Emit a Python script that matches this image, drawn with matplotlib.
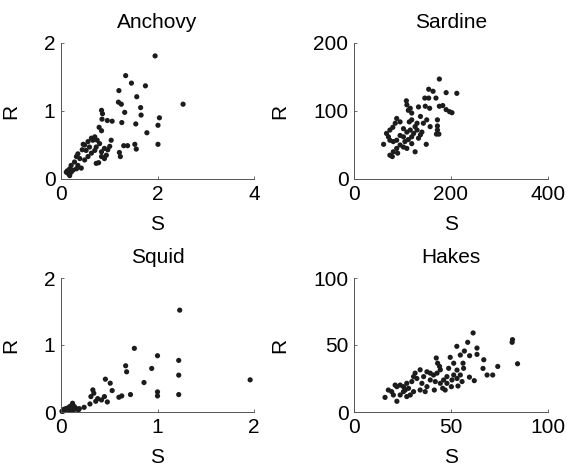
import numpy as np
import matplotlib
matplotlib.use("Agg")
import matplotlib.pyplot as plt

plt.rcParams['font.family'] = ['Liberation Sans', 'DejaVu Sans']

# Anchovy
anchovy_s = [1.95, 2.53, 1.34, 1.46, 1.75, 1.20, 1.57, 1.19, 1.25, 1.65, 1.32, 1.66, 2.04,
             0.84, 0.86, 0.96, 1.06, 0.85, 1.26, 1.55, 2.01, 0.79, 0.84, 1.78, 2.01, 1.30,
             1.38, 1.53, 1.56, 1.21, 1.23, 1.04, 1.01, 0.97, 0.94, 0.90, 0.84, 0.78, 0.73,
             0.70, 0.63, 0.56, 0.49, 0.44, 0.46, 0.66, 0.75, 0.80, 0.73, 0.63, 0.56, 0.49,
             0.39, 0.32, 0.28, 0.35, 0.42, 0.21, 0.18, 0.13, 0.15, 0.11, 0.18, 0.21, 0.25,
             0.32, 0.59, 0.70, 0.84, 0.90, 0.52, 0.35]
anchovy_r = [1.81, 1.10, 1.52, 1.41, 1.37, 1.30, 1.21, 1.13, 1.10, 1.05, 0.98, 0.94, 0.90,
             1.01, 0.96, 0.86, 0.85, 0.88, 0.83, 0.81, 0.79, 0.76, 0.71, 0.68, 0.51, 0.49,
             0.49, 0.51, 0.44, 0.39, 0.33, 0.57, 0.48, 0.43, 0.35, 0.30, 0.33, 0.24, 0.23,
             0.62, 0.60, 0.55, 0.50, 0.43, 0.51, 0.57, 0.57, 0.52, 0.47, 0.38, 0.33, 0.28,
             0.30, 0.33, 0.25, 0.20, 0.16, 0.20, 0.15, 0.12, 0.08, 0.10, 0.05, 0.10, 0.13,
             0.15, 0.47, 0.42, 0.40, 0.45, 0.42, 0.37]

# Sardine
sardine_s = [176, 212, 190, 154, 163, 146, 154, 169, 183, 190, 202, 197, 176, 156, 147, 133,
             108, 109, 116, 112, 119, 137, 150, 172, 172, 172, 170, 175, 157, 143, 88, 85,
             80, 74, 67, 61, 95, 102, 109, 116, 123, 130, 137, 140, 133, 119, 112, 102, 95,
             88, 81, 95, 102, 109, 88, 81, 74, 79, 90, 126, 149, 105, 119, 74, 130, 114,
             71, 126, 119]
sardine_r = [147, 126, 127, 132, 129, 119, 119, 119, 108, 102, 97.5, 99, 107, 104, 107, 106,
             115, 109, 104, 101, 97, 92, 87, 87, 78, 72, 66, 66, 77, 82, 89, 82,
             76, 72, 67, 51, 84, 74, 69, 72, 67, 72, 65, 69, 60, 62, 58, 62, 64,
             57, 55, 50, 47, 45, 45, 40, 35, 33, 38, 40, 51, 55, 52, 57, 82, 84,
             62, 77, 87]

# Squid
squid_s = [1.23, 0.76, 1.00, 1.22, 0.67, 0.68, 0.94, 1.22, 1.96, 0.86, 0.46, 0.51, 0.53,
           0.33, 0.34, 1.00, 1.00, 1.22, 0.72, 0.63, 0.60, 0.31, 0.45, 0.38, 0.42, 0.48,
           0.36, 0.30, 0.24, 0.19, 0.12, 0.11, 0.09, 0.07, 0.06, 0.04, 0.14, 0.16, 0.12,
           0.09, 0.02, 0.01, 0.11, 0.14, 0.18, 0.07, 0.05, 0.03]
squid_r = [1.52, 0.95, 0.84, 0.77, 0.69, 0.60, 0.65, 0.55, 0.48, 0.44, 0.49, 0.43, 0.32,
           0.33, 0.28, 0.30, 0.24, 0.26, 0.26, 0.24, 0.22, 0.23, 0.23, 0.20, 0.18, 0.15,
           0.16, 0.12, 0.07, 0.05, 0.13, 0.10, 0.08, 0.05, 0.04, 0.03, 0.08, 0.05, 0.03,
           0.03, 0.01, 0.01, 0.05, 0.04, 0.03, 0.06, 0.05, 0.04]

# Hakes
hakes_s = [61.4, 81.7, 81.5, 84.3, 53.0, 58.6, 56.9, 63.4, 63.4, 59.6, 66.9, 74.1, 66.5,
           68.6, 71.5, 62.0, 56.2, 54.8, 51.4, 49.6, 42.4, 43.1, 44.1, 48.8, 53.1, 56.5,
           54.8, 53.1, 51.4, 47.9, 46.2, 44.5, 42.8, 41.0, 39.3, 37.6, 34.1, 31.5, 30.7,
           32.4, 35.9, 39.3, 41.9, 44.5, 47.9, 50.5, 55.7, 50.2, 45.7, 41.4, 37.6, 36.7,
           34.1, 29.8, 27.2, 25.5, 26.4, 28.1, 30.7, 29.0, 23.8, 22.1, 21.2, 25.5, 27.2,
           23.8, 22.1, 20.3, 17.7, 16.0, 19.4, 35.0, 47.0, 53.6, 59.5]
hakes_r = [59, 54, 52, 36, 49, 52, 45.5, 47.7, 43, 42, 39, 34, 32.5,
           27.6, 27.6, 23.4, 36.4, 42.5, 36.4, 40.8, 40.3, 36.4, 34, 32.6, 31.3, 32.6,
           27.6, 25, 27.6, 26.4, 23.9, 31.5, 29, 27.6, 29, 30, 31.5, 29, 26.4,
           25, 26.4, 23.9, 22.7, 21.4, 21.4, 23.9, 22.7, 18.9, 17.7, 16.4, 18.9, 15.2,
           16.4, 22.7, 21.4, 18.9, 16.4, 17.7, 15.2, 12.7, 20.1, 18.9, 20.1, 15.2, 11.5,
           12.7, 8.0, 12.7, 16.4, 10.9, 15.2, 21.4, 16.4, 19.4, 26]

panels = [
    ("Anchovy", anchovy_s, anchovy_r, [0, 2, 4], [0, 1, 2]),
    ("Sardine", sardine_s, sardine_r, [0, 200, 400], [0, 100, 200]),
    ("Squid", squid_s, squid_r, [0, 1, 2], [0, 1, 2]),
    ("Hakes", hakes_s, hakes_r, [0, 50, 100], [0, 50, 100]),
]

W, H = 567, 474
# axes boxes in pixels: left, top, right, bottom
boxes = [(61, 43, 254, 179), (354, 43, 548, 179),
         (61, 278, 254, 412), (354, 278, 548, 412)]

fig = plt.figure(figsize=(5.67, 4.74), dpi=100)

for (title, s, r, xt, yt), (l, t, rr, b) in zip(panels, boxes):
    ax = fig.add_axes([l / W, 1 - b / H, (rr - l) / W, (b - t) / H])
    ax.scatter(s, r, s=14, color='#1c1c1c', edgecolors='none', clip_on=False)
    ax.set_xlim(xt[0], xt[-1])
    ax.set_ylim(yt[0], yt[-1])
    ax.set_xticks(xt)
    ax.set_yticks(yt)
    ax.tick_params(direction='in', length=2, width=0.6, labelsize=15, pad=4,
                   color='#555555')
    for side in ['top', 'right']:
        ax.spines[side].set_visible(False)
    for side in ['left', 'bottom']:
        ax.spines[side].set_linewidth(0.7)
        ax.spines[side].set_color('#555555')
    ax.set_title(title, fontsize=15, pad=11)
    ax.set_xlabel("S", fontsize=15, labelpad=8)
    ax.set_ylabel("R", fontsize=15, labelpad=17)

fig.savefig("out.png", dpi=100)
